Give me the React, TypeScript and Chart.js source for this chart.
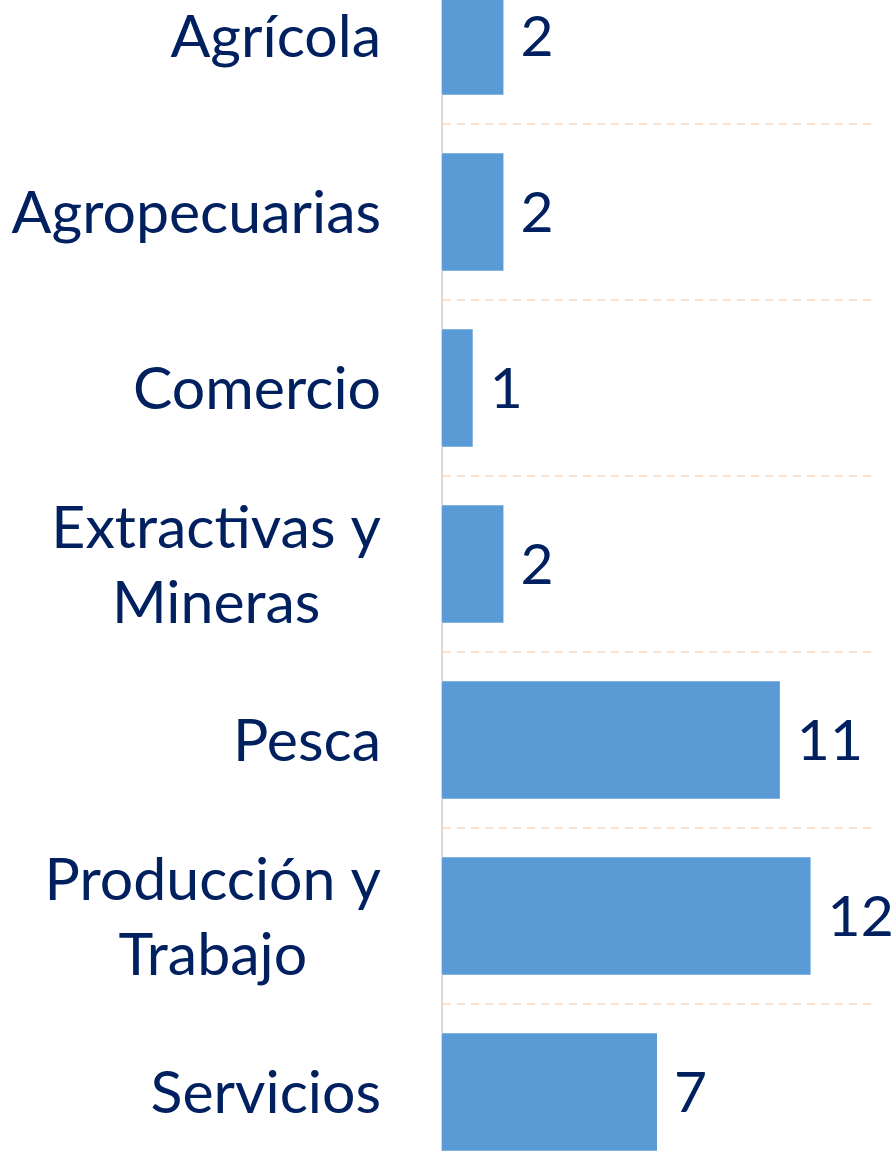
import React, { useEffect, useRef } from "react";
import { Chart, registerables } from "chart.js";

Chart.register(...registerables);

const categories: (string | string[])[] = [
  "Agrícola",
  "Agropecuarias",
  "Comercio",
  ["Extractivas y", "Mineras"],
  "Pesca",
  ["Producción y", "Trabajo"],
  "Servicios",
];
const values: number[] = [2, 2, 1, 2, 11, 12, 7];
const xMax = 14;

const FONT = "Lato, 'Open Sans', sans-serif";
const TEXT = "#002060";
const LABEL_SIZE = 59;
const VALUE_SIZE = 57;
const LINE_H = 75;
const LABEL_GAP = 61;

const dataLabels = {
  id: "dataLabels",
  afterDatasetsDraw(chart: any) {
    const ctx = chart.ctx;
    const meta = chart.getDatasetMeta(0);
    ctx.save();
    ctx.font = `${VALUE_SIZE}px ${FONT}`;
    ctx.fillStyle = TEXT;
    ctx.textAlign = "left";
    ctx.textBaseline = "middle";
    meta.data.forEach((bar: any, i: number) => {
      ctx.fillText(String(values[i]), bar.x + 17, bar.y + 2);
    });
    ctx.restore();
  },
};

const categoryLabels = {
  id: "categoryLabels",
  afterDraw(chart: any) {
    const ctx = chart.ctx;
    const yScale = chart.scales.y;
    const right = yScale.right - LABEL_GAP;
    ctx.save();
    ctx.font = `${LABEL_SIZE}px ${FONT}`;
    ctx.fillStyle = TEXT;
    ctx.textBaseline = "middle";
    ctx.textAlign = "center";
    categories.forEach((lab, i) => {
      const lines = Array.isArray(lab) ? lab : [lab];
      const widths = lines.map((l) => ctx.measureText(l).width);
      const blockW = Math.max(...widths);
      const cx = right - blockW / 2;
      const cy = yScale.getPixelForTick(i);
      const top = cy - ((lines.length - 1) * LINE_H) / 2;
      lines.forEach((l, j) => {
        ctx.fillText(l, cx, top + j * LINE_H + 2);
      });
    });
    ctx.restore();
  },
};

export default function App() {
  const ref = useRef<HTMLCanvasElement | null>(null);
  useEffect(() => {
    if (!ref.current) return;
    const chart = new Chart(ref.current, {
      type: "bar",
      data: {
        labels: categories,
        datasets: [
          {
            data: values,
            backgroundColor: "#5B9BD5",
            borderWidth: 0,
            categoryPercentage: 1,
            barPercentage: 0.667,
          },
        ],
      },
      options: {
        indexAxis: "y",
        responsive: false,
        animation: false,
        layout: { padding: { left: 0, right: 21, top: 0, bottom: 0 } },
        plugins: { legend: { display: false }, tooltip: { enabled: false } },
        scales: {
          x: { display: false, min: 0, max: xMax },
          y: {
            afterFit: (s: any) => {
              s.width = 442;
              s.paddingTop = 0;
              s.paddingBottom = 0;
            },
            grid: {
              offset: true,
              drawTicks: false,
              color: "#FBE0CC",
              lineWidth: 2,
            },
            border: { display: true, color: "#D9D9D9", width: 2, dash: [8, 6] },
            ticks: { display: false },
          },
        },
      },
      plugins: [dataLabels, categoryLabels],
    });
    return () => chart.destroy();
  }, []);
  return (
    <div
      style={{
        position: "fixed",
        top: 0,
        left: 0,
        width: 893,
        height: 1151,
        overflow: "hidden",
        background: "#fff",
      }}
    >
      <canvas
        ref={ref}
        width={893}
        height={1232}
        style={{ position: "absolute", top: -52, left: 0, width: 893, height: 1232 }}
      />
    </div>
  );
}
